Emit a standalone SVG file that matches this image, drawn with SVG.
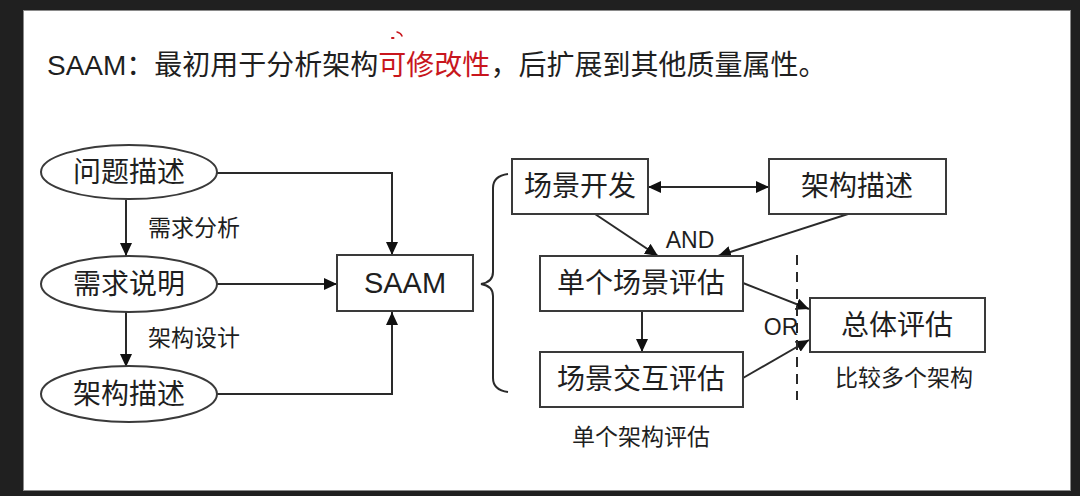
<svg xmlns="http://www.w3.org/2000/svg" width="1080" height="496" viewBox="0 0 1080 496">
<style>
text{font-family:"Liberation Sans","Noto Sans CJK SC",sans-serif;fill:#1f1f1f}
.t28{font-size:28px;text-anchor:middle}
.t24{font-size:23px}
.sh{fill:#fff;stroke:#3a3a3a;stroke-width:2}
.ln{fill:none;stroke:#2a2a2a;stroke-width:2}
</style>
<defs>
<marker id="ah" markerUnits="userSpaceOnUse" markerWidth="14" markerHeight="12" refX="13" refY="6" orient="auto-start-reverse">
<path d="M0,0 L13,6 L0,12 z" fill="#111"/>
</marker>
</defs>
<rect x="0" y="0" width="1080" height="496" fill="#202020"/>
<rect x="23.5" y="10.5" width="1047" height="480" fill="#fff" stroke="#8a8a8a" stroke-width="1"/>
<g id="title">
<text x="47" y="75" style="font-size:28px">SAAM：最初用于分析架构<tspan fill="#c8161d" style="fill:#c8161d">可修改性</tspan>，后扩展到其他质量属性。</text>
<path d="M392,38 l1.5,0" stroke="#c8161d" stroke-width="2" stroke-linecap="round"/>
<path d="M397,32 q4,1 5,4" fill="none" stroke="#c8161d" stroke-width="1.5" stroke-linecap="round"/>
</g>
<g id="connectors">
<path class="ln" d="M217,173 H392 V255" marker-end="url(#ah)"/>
<path class="ln" d="M217,284 H337" marker-end="url(#ah)"/>
<path class="ln" d="M217,394 H392 V312" marker-end="url(#ah)"/>
<path class="ln" d="M126,200 V256" marker-end="url(#ah)"/>
<path class="ln" d="M126,312 V367" marker-end="url(#ah)"/>
<path class="ln" d="M648,187 H769" marker-start="url(#ah)" marker-end="url(#ah)"/>
<path class="ln" d="M595,214 L658,256" marker-end="url(#ah)"/>
<path class="ln" d="M848,214 L718,256" marker-end="url(#ah)"/>
<path class="ln" d="M642,311 V352" marker-end="url(#ah)"/>
<path class="ln" d="M743,283 L809,309" marker-end="url(#ah)"/>
<path class="ln" d="M743,378 L809,340" marker-end="url(#ah)"/>
<path class="ln" d="M797,255 V400" stroke-dasharray="10,7" stroke-width="1.6"/>
<path class="ln" d="M508,174 Q493,176 493,188 V272 Q493,282 481,284 Q493,286 493,296 V378 Q493,390 508,392"/>
</g>
<g id="n-problem"><ellipse class="sh" cx="129" cy="172" rx="88" ry="27"/><text class="t28" x="129" y="182">问题描述</text></g>
<g id="n-req"><ellipse class="sh" cx="129" cy="284" rx="88" ry="28"/><text class="t28" x="129" y="294">需求说明</text></g>
<g id="n-arch"><ellipse class="sh" cx="129" cy="394" rx="88" ry="28"/><text class="t28" x="129" y="404">架构描述</text></g>
<g id="l-req"><text class="t24" x="148" y="236">需求分析</text></g>
<g id="l-design"><text class="t24" x="148" y="346">架构设计</text></g>
<g id="n-saam"><rect class="sh" x="337" y="255" width="136" height="56"/><text class="t28" x="405" y="293" style="font-size:29px">SAAM</text></g>
<g id="n-scen"><rect class="sh" x="512" y="159" width="136" height="55"/><text class="t28" x="580" y="196">场景开发</text></g>
<g id="n-archdesc"><rect class="sh" x="769" y="159" width="177" height="55"/><text class="t28" x="857" y="196">架构描述</text></g>
<g id="n-single"><rect class="sh" x="540" y="256" width="203" height="55"/><text class="t28" x="641" y="293">单个场景评估</text></g>
<g id="n-inter"><rect class="sh" x="540" y="352" width="203" height="55"/><text class="t28" x="641" y="389">场景交互评估</text></g>
<g id="n-total"><rect class="sh" x="810" y="298" width="175" height="54"/><text class="t28" x="897" y="335">总体评估</text></g>
<g id="l-and"><text x="690" y="248" style="font-size:23px;text-anchor:middle">AND</text></g>
<g id="l-or"><text x="781" y="335" style="font-size:23px;text-anchor:middle">OR</text></g>
<g id="l-multi"><text class="t24" x="835" y="386">比较多个架构</text></g>
<g id="l-singlearch"><text class="t24" x="572" y="445">单个架构评估</text></g>
</svg>
